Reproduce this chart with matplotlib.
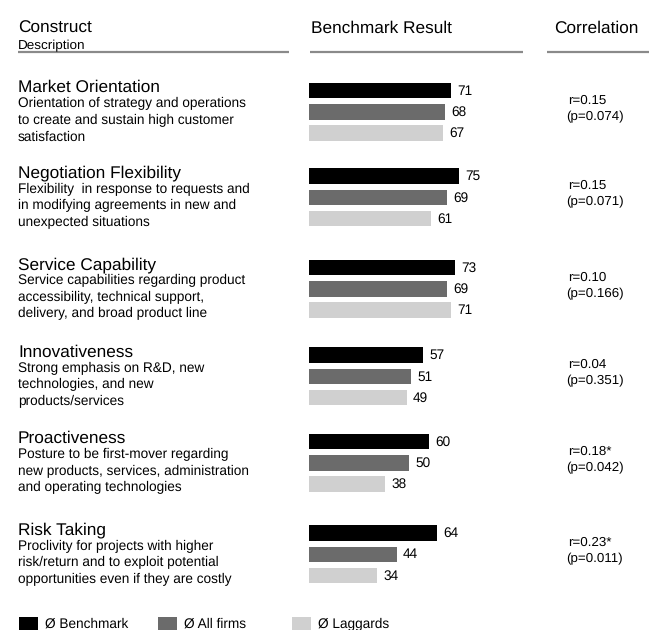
import matplotlib
matplotlib.use("Agg")
import matplotlib.pyplot as plt
from matplotlib.patches import Rectangle

plt.rcParams['font.family'] = ['Liberation Sans', 'DejaVu Sans']
plt.rcParams['text.hinting'] = 'no_hinting'

# ---- data ----
constructs = ["Market Orientation", "Negotiation Flexibility", "Service Capability",
              "Innovativeness", "Proactiveness", "Risk Taking"]
descriptions = [
    ["Orientation of strategy and operations", "to create and sustain high customer", "satisfaction"],
    ["Flexibility  in response to requests and", "in modifying agreements in new and", "unexpected situations"],
    ["Service capabilities regarding product", "accessibility, technical support,", "delivery, and broad product line"],
    ["Strong emphasis on R&D, new", "technologies, and new", "products/services"],
    ["Posture to be first-mover regarding", "new products, services, administration", "and operating technologies"],
    ["Proclivity for projects with higher", "risk/return and to exploit potential", "opportunities even if they are costly"],
]
benchmark = [71, 75, 73, 57, 60, 64]
all_firms = [68, 69, 69, 51, 50, 44]
laggards = [67, 61, 71, 49, 38, 34]
corr_r = ["r=0.15", "r=0.15", "r=0.10", "r=0.04", "r=0.18*", "r=0.23*"]
corr_p = ["(p=0.074)", "(p=0.071)", "(p=0.166)", "(p=0.351)", "(p=0.042)", "(p=0.011)"]
series_names = ["Ø Benchmark", "Ø All firms", "Ø Laggards"]
series_colors = ["#000000", "#6b6b6b", "#d0d0d0"]

W, H = 654, 630
fig = plt.figure(figsize=(W / 100, H / 100), dpi=100)

# overlay axes in pixel coordinates for text and rules
ax = fig.add_axes([0, 0, 1, 1])
ax.set_xlim(0, W)
ax.set_ylim(H, 0)
ax.axis("off")

# bar axes: origin at x=309 px, 2 px per unit
x0_px, px_per_unit = 309, 2.0
bw_px = 200
bx = fig.add_axes([x0_px / W, 0, bw_px / W, 1])
bx.set_xlim(0, bw_px / px_per_unit)
bx.set_ylim(H, 0)
bx.axis("off")

# headers
hdr_fs = 12.4
desc_fs = 9.8
ax.text(18, 33, "Construct", fontsize=hdr_fs, va="baseline", ha="left")
ax.text(18, 49.5, "Description", fontsize=9.7, va="baseline", ha="left")
ax.text(311, 33, "Benchmark Result", fontsize=hdr_fs, va="baseline", ha="left")
ax.text(596, 33, "Correlation", fontsize=hdr_fs, va="baseline", ha="center")
rule_c = "#8a8a8a"
for xa, xb in [(18, 289), (310, 523), (547, 649)]:
    ax.plot([xa, xb], [51.5, 51.5], color=rule_c, lw=1.6, solid_capstyle="butt")

# groups
group_y = [90.5, 176, 267.5, 355, 441.5, 533]
step = 21.3
bar_h = 15.5
for i, gy in enumerate(group_y):
    vals = [benchmark[i], all_firms[i], laggards[i]]
    for j, v in enumerate(vals):
        y = gy + j * step
        bx.barh(y, v, height=bar_h, left=0, color=series_colors[j], edgecolor="none")
        bx.text(v + 3, y + 0.5, str(v), fontsize=9.8, va="center", ha="left")
    # heading and description
    ax.text(18, gy + 1.5, constructs[i], fontsize=hdr_fs, va="baseline", ha="left")
    for k, line in enumerate(descriptions[i]):
        ax.text(18, gy + 12 + 4.8 + k * 16.6, line, fontsize=desc_fs, va="baseline", ha="left")
    # correlation
    ax.text(568, gy + 8.5 + 4.8, corr_r[i], fontsize=9.6, va="baseline", ha="left")
    ax.text(566, gy + 24.5 + 4.8, corr_p[i], fontsize=9.6, va="baseline", ha="left")

# legend
leg_x = [19, 158, 292]
for xs, name, col in zip(leg_x, series_names, series_colors):
    ax.add_patch(Rectangle((xs, 617), 19, 14, color=col, lw=0))
    ax.text(xs + 26, 628, name, fontsize=9.8, va="baseline", ha="left")

fig.savefig("out.png", dpi=100)
